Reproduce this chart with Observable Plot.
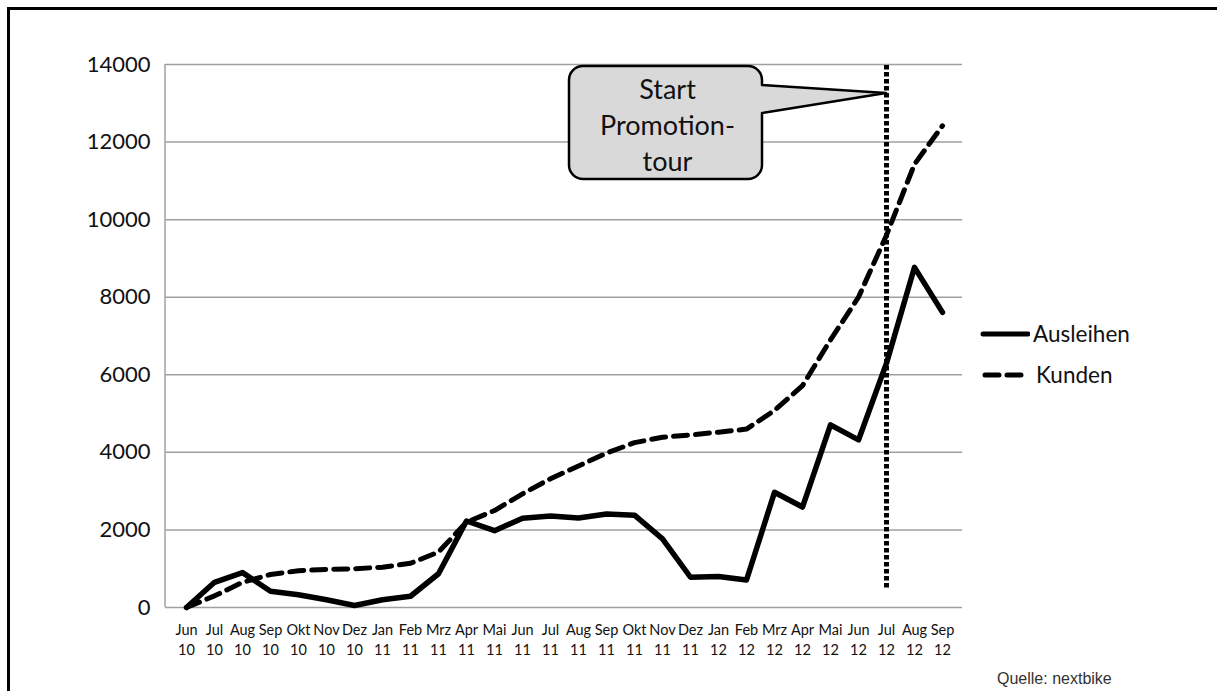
<!DOCTYPE html>
<html>
<head>
<meta charset="utf-8">
<script src="https://cdn.jsdelivr.net/npm/d3@7"></script>
<script src="https://cdn.jsdelivr.net/npm/@observablehq/plot@0.6"></script>
<style>
  html, body { margin: 0; padding: 0; background: #fff; overflow: hidden; width: 1217px; height: 691px; }
  #wrap { position: relative; width: 1217px; height: 691px; overflow: hidden; font-family: Lato, "Noto Sans", sans-serif; }
  #frameTop { position: absolute; left: 7px; top: 7px; width: 1210px; height: 3px; background: #000; }
  #frameLeft { position: absolute; left: 7px; top: 7px; width: 3px; height: 684px; background: #000; }
  #chart { position: absolute; left: 0; top: 0; }
  .leg { position: absolute; left: 980px; font-size: 22.5px; color: #111; display: flex; align-items: center; }
  .leg svg { display: block; margin-right: 3px; }
  #source { position: absolute; left: 997px; top: 670px; font-family: "Liberation Sans", Arial, sans-serif; font-size: 16px; color: #333; }
</style>
</head>
<body>
<div id="wrap">
  <div id="frameTop"></div>
  <div id="frameLeft"></div>
  <div id="chart"></div>
  <div class="leg" style="top:320px;">
    <svg width="50" height="10"><line x1="3" y1="5" x2="48" y2="5" stroke="#000" stroke-width="5" stroke-linecap="round"/></svg>
    <span>Ausleihen</span>
  </div>
  <div class="leg" style="top:361px;">
    <svg width="50" height="10"><line x1="5" y1="5" x2="41" y2="5" stroke="#000" stroke-width="5" stroke-dasharray="14 8" stroke-linecap="round"/></svg>
    <span style="margin-left:3px">Kunden</span>
  </div>
  <div id="source">Quelle: nextbike</div>
</div>
<script>
const months = ["Jun","Jul","Aug","Sep","Okt","Nov","Dez","Jan","Feb","Mrz","Apr","Mai","Jun","Jul","Aug","Sep","Okt","Nov","Dez","Jan","Feb","Mrz","Apr","Mai","Jun","Jul","Aug","Sep"];
const years = ["10","10","10","10","10","10","10","11","11","11","11","11","11","11","11","11","11","11","11","12","12","12","12","12","12","12","12","12"];
const ausleihen = [0, 650, 900, 420, 330, 200, 50, 200, 290, 870, 2230, 1980, 2300, 2360, 2310, 2410, 2380, 1770, 780, 800, 710, 2970, 2590, 4710, 4320, 6300, 8770, 7610];
const kunden = [0, 300, 650, 850, 950, 980, 1000, 1040, 1140, 1430, 2200, 2500, 2930, 3320, 3650, 3980, 4250, 4390, 4450, 4520, 4600, 5080, 5720, 6900, 8000, 9600, 11430, 12420];
const yTicks = [0, 2000, 4000, 6000, 8000, 10000, 12000, 14000];

// annotation
const promoMonth = ["Jul 12"];
const promoRange = [500, 14000];
const calloutValue = [13250];
const calloutLines = ["Start", "Promotion-", "tour"];

const labels = months.map((m, i) => m + " " + years[i]);
const rows = labels.map((l, i) => ({label: l, ausleihen: ausleihen[i], kunden: kunden[i]}));

function callout(index, scales) {
  const tx = scales.x(promoMonth[0]);
  const ty = scales.y(calloutValue[0]);
  const left = tx - 317, right = tx - 124, top = ty - 27, bottom = ty + 86, r = 14;
  const a1 = ty - 8, a2 = ty + 20;
  const g = d3.create("svg:g");
  const p = d3.path();
  p.moveTo(left + r, top);
  p.lineTo(right - r, top);
  p.arcTo(right, top, right, top + r, r);
  p.lineTo(right, a1);
  p.lineTo(tx, ty);
  p.lineTo(right, a2);
  p.lineTo(right, bottom - r);
  p.arcTo(right, bottom, right - r, bottom, r);
  p.lineTo(left + r, bottom);
  p.arcTo(left, bottom, left, bottom - r, r);
  p.lineTo(left, top + r);
  p.arcTo(left, top, left + r, top, r);
  p.closePath();
  g.append("path").attr("d", p.toString())
    .attr("fill", "#d9d9d9").attr("stroke", "#000").attr("stroke-width", 2.5).attr("stroke-linejoin", "round");
  const cx = (left + right) / 2;
  calloutLines.forEach((t, i) => {
    g.append("text").attr("x", cx + 2).attr("y", top + 22 + i * 36)
      .attr("text-anchor", "middle").attr("dominant-baseline", "central")
      .attr("font-family", "Lato, 'Noto Sans', sans-serif").attr("font-size", 27).attr("fill", "#111")
      .text(t);
  });
  return g.node();
}

const plot = Plot.plot({
  width: 1217,
  height: 691,
  marginLeft: 165,
  marginRight: 255,
  marginTop: 64,
  marginBottom: 84,
  style: {fontFamily: "Lato, 'Noto Sans', sans-serif", background: "transparent", color: "#111"},
  x: {type: "point", domain: labels, padding: 0.5},
  y: {domain: [0, 14000]},
  marks: [
    Plot.gridY(yTicks, {stroke: "#a0a0a0", strokeOpacity: 1, strokeWidth: 1.5}),
    Plot.axisY(yTicks, {tickSize: 0, tickPadding: 15, fontSize: 22, label: null, tickFormat: d => String(d)}),
    Plot.axisX(labels, {tickSize: 0, tickPadding: 13, fontSize: 14.5, lineHeight: 1.4, label: null, tickFormat: d => d.replace(" ", "\n")}),
    Plot.line(rows, {x: "label", y: "kunden", stroke: "#000", strokeWidth: 5, strokeDasharray: "14 8", strokeLinejoin: "round"}),
    Plot.line(rows, {x: "label", y: "ausleihen", stroke: "#000", strokeWidth: 5.5, strokeLinejoin: "round", strokeLinecap: "round"}),
    Plot.ruleX(promoMonth, {x: d => d, y1: promoRange[0], y2: promoRange[1], stroke: "#000", strokeWidth: 5, strokeDasharray: "4.5 2.5"}),
    callout
  ]
});

// left axis line (gray frame edge)
const svg = d3.select(plot);
const ys = plot.scale("y");
svg.append("line")
  .attr("x1", 165).attr("x2", 165)
  .attr("y1", ys.range[0]).attr("y2", ys.range[1])
  .attr("stroke", "#a0a0a0").attr("stroke-width", 1.5);

document.getElementById("chart").appendChild(plot);
</script>
</body>
</html>
